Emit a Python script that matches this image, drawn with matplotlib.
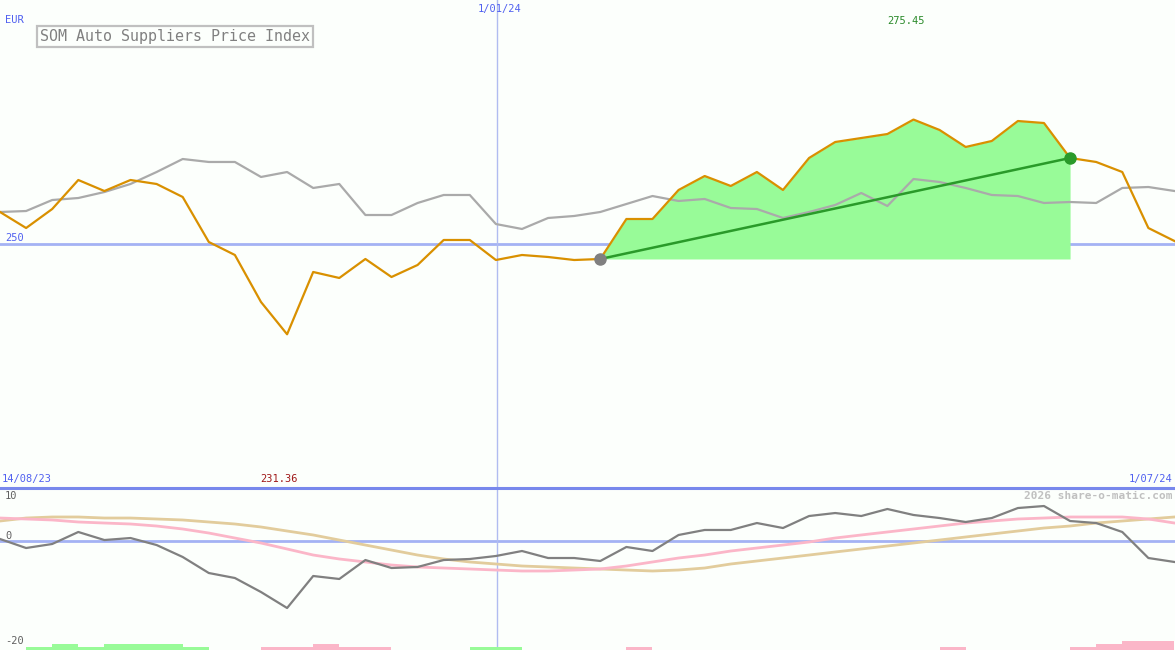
import matplotlib
matplotlib.use("Agg")
import matplotlib.pyplot as plt
import numpy as np

W, H = 1175, 650

# ---------------- data ----------------
price = [256.47, 253.18, 257.08, 263.04, 260.78, 263.04, 262.22, 259.55, 250.31, 247.64,
         237.99, 231.36, 244.15, 242.92, 246.82, 243.12, 245.59, 250.72, 250.72, 246.61,
         247.64, 247.23, 246.61, 246.82, 255.03, 255.03, 260.99, 263.86, 261.81, 264.68,
         260.99, 267.56, 270.84, 271.66, 272.48, 275.45, 273.31, 269.82, 271.05, 275.15,
         274.74, 267.56, 266.74, 264.68, 253.18, 250.51]

compare_px = [212, 211, 200, 198, 192, 184, 172, 159, 162, 162, 177, 172, 188, 184, 215, 215,
              203, 195, 195, 224, 229, 218, 216, 212, 204, 196, 201, 199, 208, 209, 218, 212,
              205, 193, 206, 179, 182, 188, 195, 196, 203, 202, 203, 188, 187, 191]
compare = [round(300 - p / 4.87, 2) for p in compare_px]

mom_px = [539, 548, 544, 532, 540, 538, 545, 557, 573, 578, 592, 608, 576, 579, 560, 568,
          567, 560, 559, 556, 551, 558, 558, 561, 547, 551, 535, 530, 530, 523, 528, 516,
          513, 516, 509, 515, 518, 522, 518, 508, 506, 521, 523, 532, 558, 562]
pink_px = [518, 519, 520, 522, 523, 524, 526, 529, 533, 538, 543, 549, 555, 559, 562, 565,
           567, 568, 569, 570, 571, 571, 570, 569, 566, 562, 558, 555, 551, 548, 545, 542,
           538, 535, 532, 529, 526, 523, 521, 519, 518, 517, 517, 517, 519, 523]
tan_px = [521, 518, 517, 517, 518, 518, 519, 520, 522, 524, 527, 531, 535, 540, 545, 550,
          555, 559, 562, 564, 566, 567, 568, 569, 570, 571, 570, 568, 564, 561, 558, 555,
          552, 549, 546, 543, 540, 537, 534, 531, 528, 526, 523, 521, 519, 517]

def osc(p):
    return [round(10 - (v - 487) / 5.433, 2) for v in p]

momentum = osc(mom_px)
sig_pink = osc(pink_px)
sig_tan = osc(tan_px)

# bar levels per interval k..k+1 (positive=green, negative=pink)
bars = [0, 1, 2, 1, 2, 2, 2, 1, 0, 0, -1, -1, -2, -1, -1, 0, 0, 0, 1, 1, 0, 0, 0, 0,
        -1, 0, 0, 0, 0, 0, 0, 0, 0, 0, 0, 0, -1, 0, 0, 0, 0, -1, -2, -3, -3]

start_i, end_i = 23, 41
jan_pos = 19.04

# ---------------- figure ----------------
bg = "#fcfffc"
fig = plt.figure(figsize=(W / 100, H / 100), dpi=100, facecolor=bg)
ax = fig.add_axes([0, 163 / H, 1, 487 / H])
ax2 = fig.add_axes([0, 0, 1, 163 / H])
for a in (ax, ax2):
    a.set_facecolor(bg)
    a.set_axis_off()
    a.set_xlim(0, 45.02)

x = np.arange(len(price))
ax.set_ylim(200, 300)
ax.axhline(250, color="#a4b2f4", lw=2, zorder=1)
ax.axvline(jan_pos, color="#b0bcf0", lw=1, zorder=1)

# green region
xs = x[start_i:end_i + 1]
ax.fill_between(xs, price[start_i:end_i + 1], price[start_i], color="#98fb98", lw=0, zorder=2)
ax.plot(x, compare, color="#aaaaaa", lw=1.6, zorder=3)
ax.plot(x, price, color="#d99000", lw=1.6, zorder=4)
ax.plot([start_i, end_i], [price[start_i], price[end_i]], color="#2a9a2a", lw=1.8, zorder=5)
ax.plot([start_i], [price[start_i]], "o", color="#808080", ms=8, zorder=6)
ax.plot([end_i], [price[end_i]], "o", color="#2a9a2a", ms=8, zorder=6)

# oscillator panel
ax2.set_ylim(-20, 10)
ax2.axhline(0, color="#a4b2f4", lw=2, zorder=1)
ax2.axvline(jan_pos, color="#b0bcf0", lw=1, zorder=1)
unit = 3 / 5.433
for k, b in enumerate(bars):
    if b == 0:
        continue
    col = "#98fb98" if b > 0 else "#fbb6c8"
    ax2.bar(k, abs(b) * unit, width=1.0, bottom=-20, align="edge", color=col, lw=0, zorder=2)
ax2.plot(x, sig_tan, color="#e2cc9c", lw=2, zorder=3)
ax2.plot(x, sig_pink, color="#fbb6c8", lw=2, zorder=3)
ax2.plot(x, momentum, color="#808080", lw=1.6, zorder=4)

# separator line
fig.add_artist(plt.Line2D([0, 1], [1 - 487.5 / H, 1 - 487.5 / H], color="#7888ec", lw=2.2,
                          transform=fig.transFigure))

def T(px, py, s, **kw):
    fig.text(px / W, 1 - py / H, s, family="DejaVu Sans Mono", va="center", **kw)

blue = "#5060f0"
T(5, 20, "EUR", color=blue, fontsize=7.5)
T(2, 479, "14/08/23", color=blue, fontsize=7.5)
T(1172, 479, "1/07/24", color=blue, fontsize=7.5, ha="right")
T(500, 9, "1/01/24", color=blue, fontsize=7.5, ha="center")
T(906, 21, "275.45", color="#2a8a2a", fontsize=7.5, ha="center")
T(279, 479, "231.36", color="#a01818", fontsize=7.5, ha="center")
T(5, 238, "250", color=blue, fontsize=7.5)
T(1172, 496, "2026 share-o-matic.com", color="#c0c0c0", fontsize=8, ha="right",
  fontweight="bold")
T(5, 496, "10", color="#606060", fontsize=7.5)
T(5, 536, "0", color="#606060", fontsize=7.5)
T(5, 641, "-20", color="#606060", fontsize=7.5)
T(175, 36.5, "SOM Auto Suppliers Price Index", color="#808080", fontsize=10.8, ha="center",
  bbox=dict(boxstyle="square,pad=0.22", fc=bg, ec="#c0c0c0", lw=1.6))

fig.savefig("out.png", dpi=100, facecolor=bg)
